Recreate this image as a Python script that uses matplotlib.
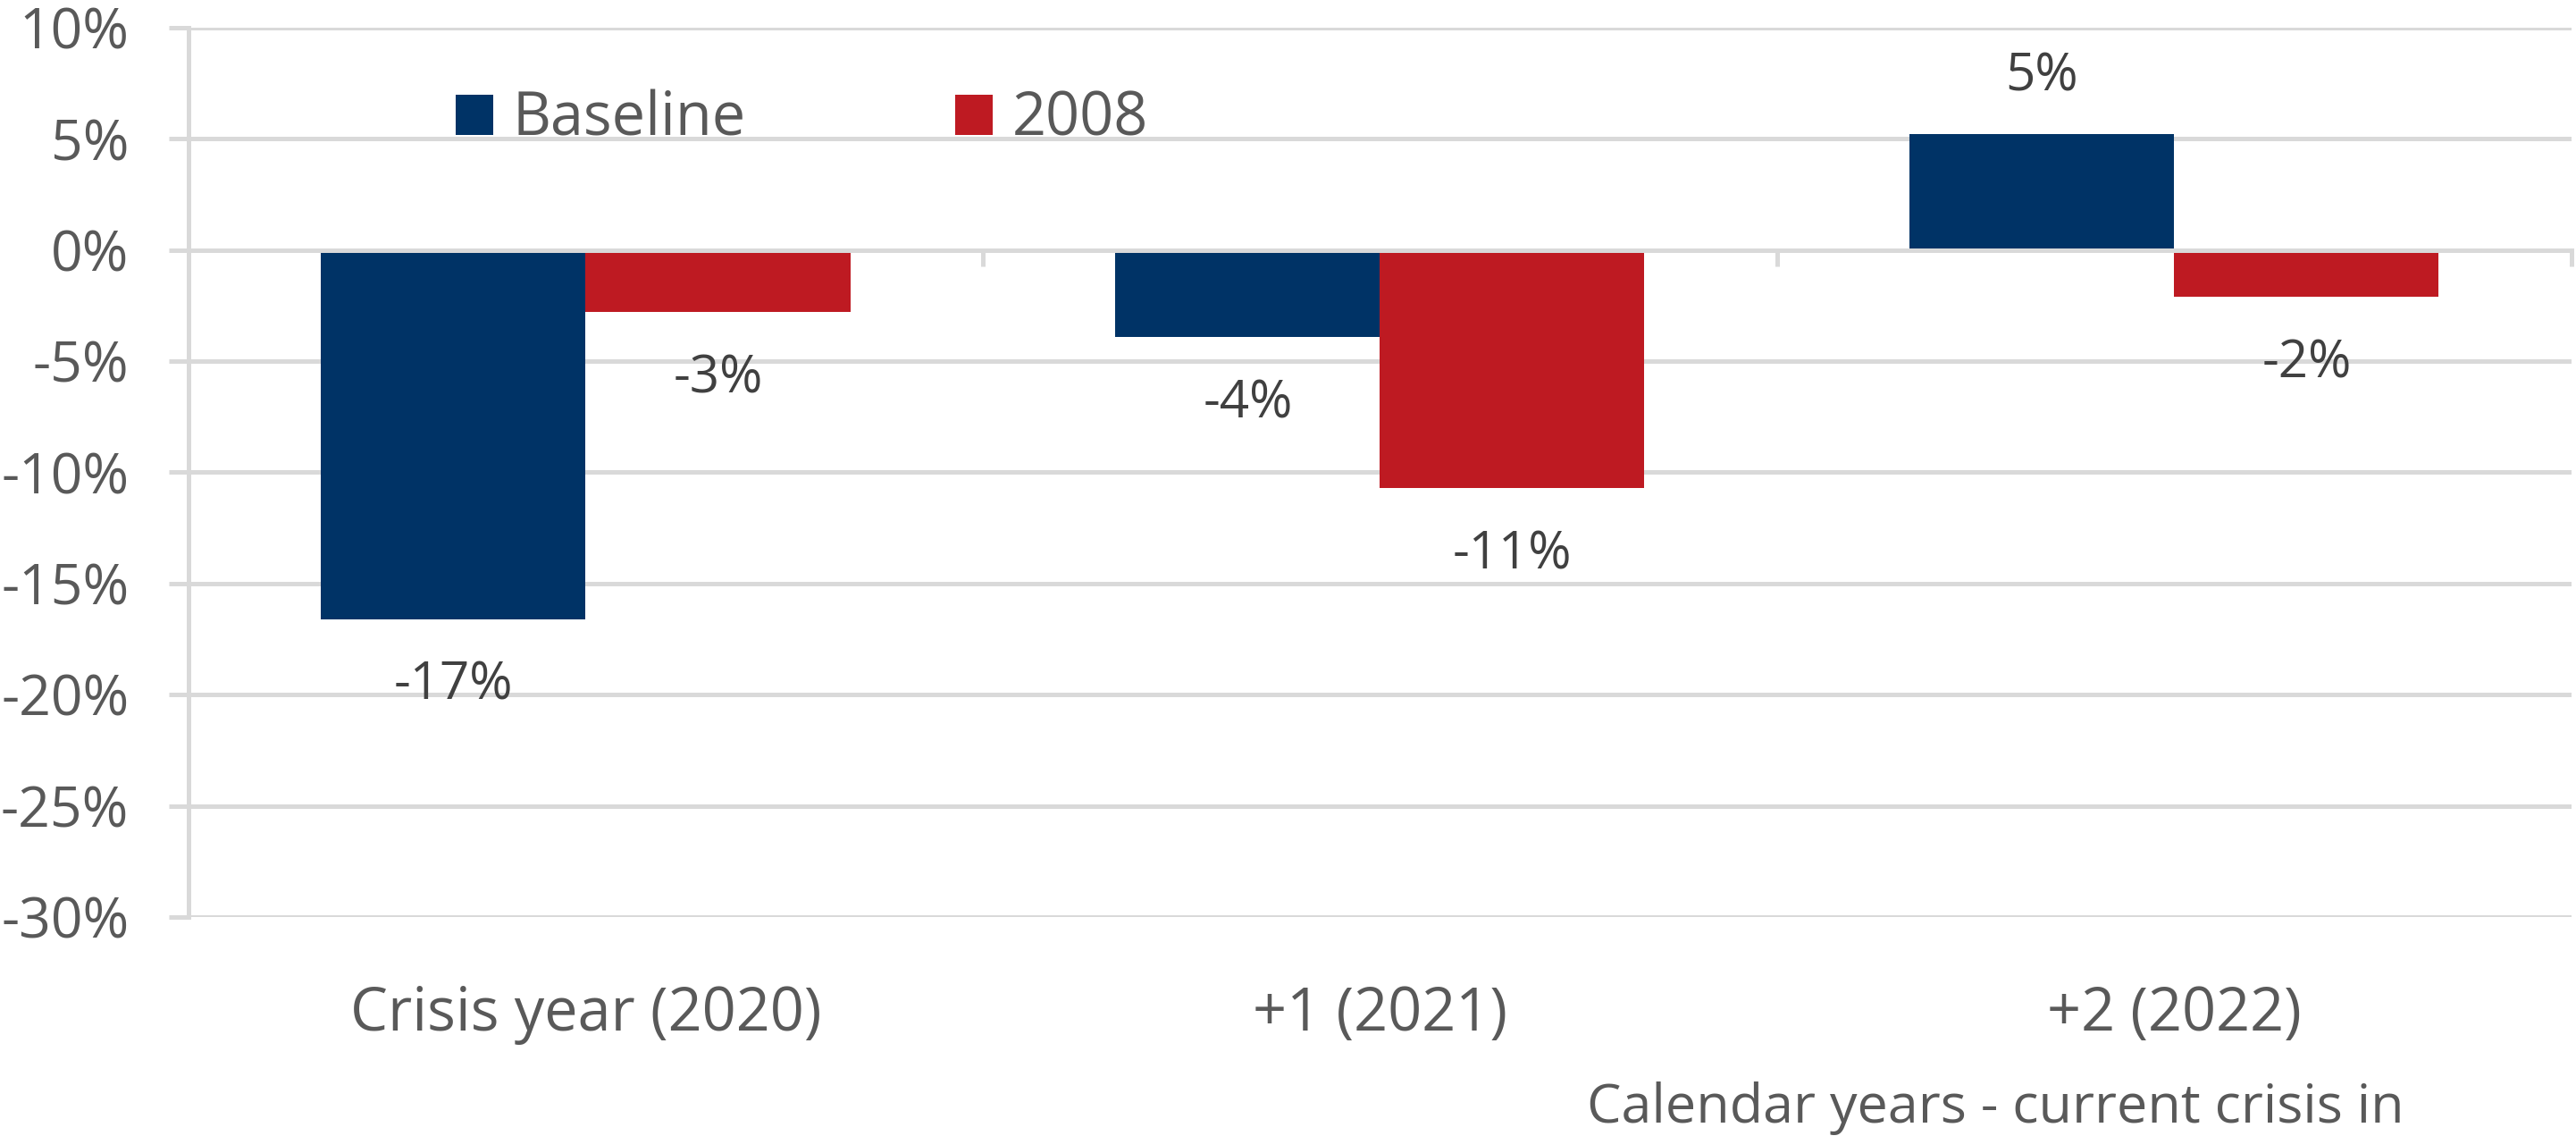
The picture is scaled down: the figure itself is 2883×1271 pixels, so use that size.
import numpy as np
import matplotlib
matplotlib.use('Agg')
from matplotlib import pyplot as plt

# dados do gráfico
categorias = ['Crisis year (2020)', '+1 (2021)', '+2 (2022)']
baseline = [-0.166, -0.039, 0.052]
crise2008 = [-0.028, -0.107, -0.021]
series = ['Baseline', '2008']
yticks = [-0.30, -0.25, -0.20, -0.15, -0.10, -0.05, 0.0, 0.05, 0.10]
titulo_x = 'Calendar years - current crisis in'

AZUL = '#003366'
VERMELHO = '#BE1A22'
GRADE = '#D9D9D9'
TEXTO = '#595959'
ROTULO = '#404040'

plt.rcParams['font.family'] = ['Open Sans', 'DejaVu Sans']

fig = plt.figure(figsize=(28.83, 12.71), dpi=100)
ax = fig.add_axes([0.0732, 0.1928, 0.925, 0.7828])

x = np.arange(len(categorias))
w = 0.333
b1 = ax.bar(x - w / 2, baseline, w, color=AZUL, label=series[0], zorder=2)
b2 = ax.bar(x + w / 2, crise2008, w, color=VERMELHO, label=series[1], zorder=2)

# rótulos dos valores
for barras in (b1, b2):
    for r in barras:
        v = r.get_height()
        dy = 46 if v >= 0 else -54
        ax.annotate(f'{round(v * 100):d}%',
                    (r.get_x() + r.get_width() / 2, v),
                    xytext=(0, dy), textcoords='offset points',
                    ha='center', va='center', fontsize=42, color=ROTULO)

ax.set_xlim(-0.5, len(categorias) - 0.5)
ax.set_ylim(yticks[0], yticks[-1])
ax.set_yticks(yticks)
ax.set_yticklabels([f'{round(v * 100):d}%' for v in yticks])
ax.grid(axis='y', color=GRADE, linewidth=3.6, zorder=1)
ax.set_axisbelow(True)

for s in ('top', 'right'):
    ax.spines[s].set_visible(False)
ax.spines['left'].set_color(GRADE)
ax.spines['left'].set_linewidth(3.6)
ax.spines['bottom'].set_position(('data', 0))
ax.spines['bottom'].set_color(GRADE)
ax.spines['bottom'].set_linewidth(3.6)
ax.spines['bottom'].set_zorder(3)

ax.tick_params(axis='y', length=16, width=3.6, color=GRADE, pad=32,
               labelsize=45, labelcolor=TEXTO)
ax.set_xticks(x)
ax.set_xticklabels([])
ax.set_xticks(np.arange(len(categorias) + 1) - 0.5, minor=True)
ax.tick_params(axis='x', which='major', length=0)
ax.tick_params(axis='x', which='minor', length=13, width=3.6, color=GRADE)

# rótulos das categorias abaixo do eixo
for xi, c in zip(x, categorias):
    ax.text(xi, -0.11, c, transform=ax.get_xaxis_transform(),
            ha='center', va='center', fontsize=48, color=TEXTO)

fig.text(0.616, 0.024, titulo_x, ha='left', va='center', fontsize=44, color=TEXTO)

leg = ax.legend(loc='center left', bbox_to_anchor=(510 / 2883, 1 - 134 / 1271),
                bbox_transform=fig.transFigure, ncol=2, frameon=False,
                fontsize=48, handlelength=0.63, handleheight=0.66,
                handletextpad=0.33, columnspacing=3.5, borderpad=0, borderaxespad=0)
for t in leg.get_texts():
    t.set_color(TEXTO)

fig.savefig('out.png', dpi=100)
